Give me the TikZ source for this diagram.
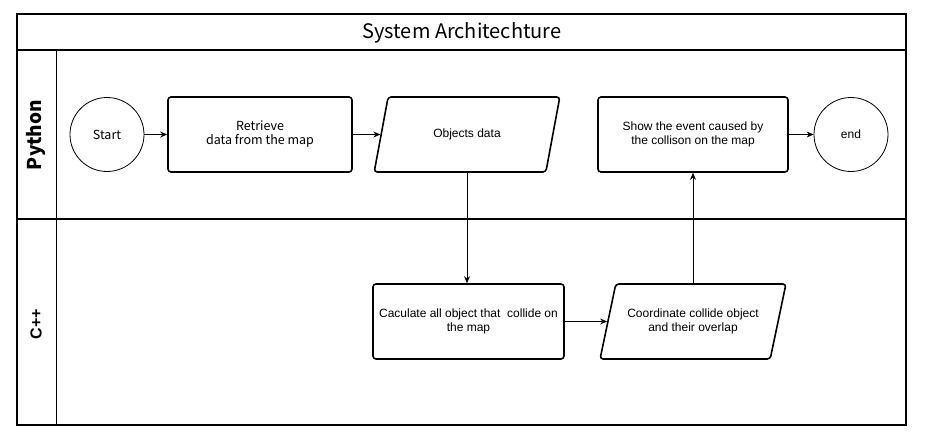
\documentclass[tikz,border=0pt]{standalone}
\usepackage{fontspec}
\setmainfont{Liberation Sans}
\newfontfamily\notosans{Noto Sans CJK KR}
\usetikzlibrary{shapes.geometric,arrows.meta}
\begin{document}
\begin{tikzpicture}[x=1pt,y=-1pt,
  frame/.style={line width=1.2pt},
  procbox/.style={draw,line width=1.6pt,rounded corners=3pt,minimum width=#1,minimum height=75pt,inner sep=0pt,align=center,font=\fontsize{12}{14}\selectfont},
  para/.style={draw,line width=1.6pt,rounded corners=3pt,trapezium,trapezium left angle=62,trapezium right angle=118,trapezium stretches=true,minimum width=186pt,minimum height=75pt,inner sep=0pt,align=center,font=\fontsize{12}{14}\selectfont},
  term/.style={draw,line width=0.8pt,circle,minimum size=74pt,inner sep=0pt,font=\fontsize{12}{14}\selectfont},
  flow/.style={line width=0.9pt,-{Stealth[length=7pt,width=6pt]}},
  lanelabel/.style={rotate=90,font=\bfseries\fontsize{16}{18}\selectfont}
]
\useasboundingbox (0,0) rectangle (927,445);
% frame and lanes
\draw[frame] (17,14) rectangle (906,425);
\draw[frame] (17,50) -- (906,50);
\draw[frame] (17,219) -- (906,219);
\draw[frame] (56.5,50) -- (56.5,425);
\node[font=\notosans\fontsize{20}{22}\selectfont] (title) at (462,33) {System Architechture};
\node[lanelabel,font=\notosans\bfseries\fontsize{19}{21}\selectfont] (lpy) at (36,135) {Python};
\node[lanelabel] (lcpp) at (36,324) {C++};
% nodes
\node[term,font=\notosans\fontsize{12.5}{14}\selectfont] (start) at (107,134.5) {Start};
\node[procbox=184pt,font=\notosans\fontsize{12.5}{14}\selectfont] (retr) at (260,134.5) {Retrieve\\data from the map};
\node[para] (obj) at (467,134.5) {Objects data};
\node[procbox=190pt] (show) at (693,134.5) {Show the event caused by\\the collison on the map};
\node[term] (end) at (851,134.5) {end};
\node[procbox=191pt] (calc) at (468.5,321.5) {Caculate all object that\ \ collide on\\the map};
\node[para] (coord) at (693,321.5) {Coordinate collide object\\and their overlap};
% connectors
\draw[flow] (start) -- (retr);
\draw[flow] (retr.east) -- (obj.west);
\draw[flow] (obj.south) -- (obj.south |- calc.north);
\draw[flow] (calc.east) -- (coord.west);
\draw[flow] (coord.north) -- (coord.north |- show.south);
\draw[flow] (show) -- (end);
\end{tikzpicture}
\end{document}
